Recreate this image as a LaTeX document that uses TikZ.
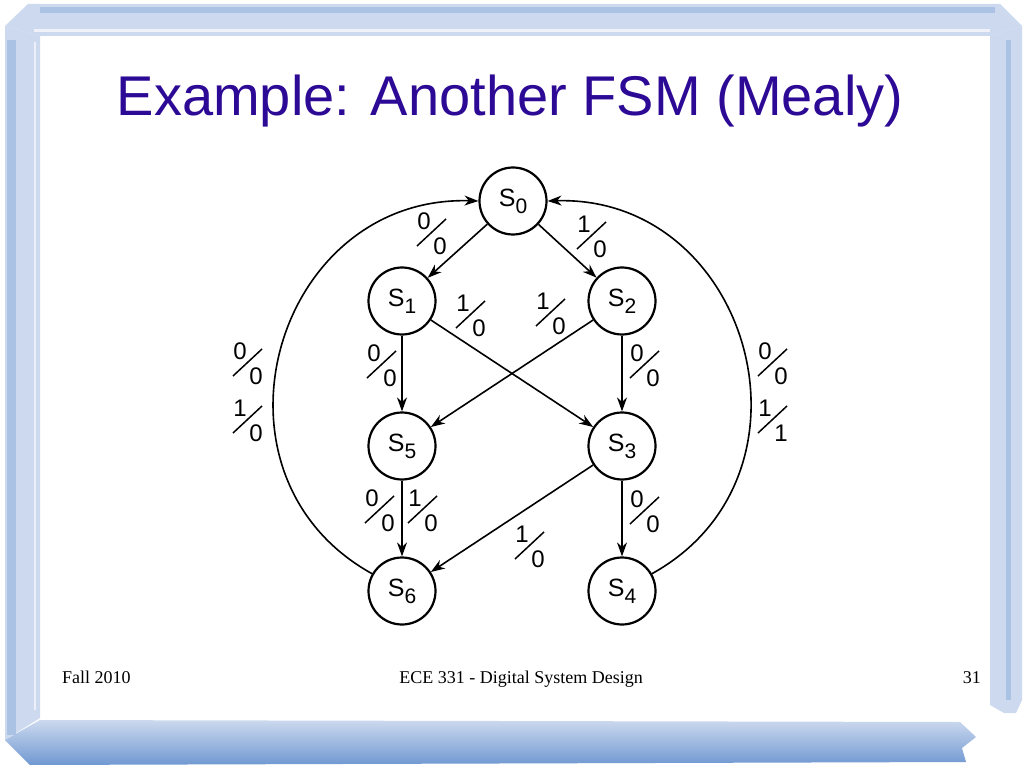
\documentclass[tikz,border=0pt]{standalone}
\usepackage{fontspec}
\setmainfont{Liberation Serif}
\newfontfamily\diagfont{Liberation Sans}
\usetikzlibrary{arrows.meta}

\definecolor{titleblue}{RGB}{45,10,150}
\definecolor{framelight}{RGB}{204,217,238}
\definecolor{framemid}{RGB}{170,194,228}
\definecolor{framedark}{RGB}{112,152,210}

\newcommand{\sname}[1]{S\raisebox{-7pt}{\fontsize{21}{21}\selectfont #1}}

\tikzset{
	pics/io/.style 2 args = {code = {
		\node[iotext] (-in) at (-8, -12) {#1};
		\draw[ioslash] (-15, 13) -- (14, -14);
		\node[iotext] (-out) at (8, 13) {#2};
	}}
}

\begin{document}
\begin{tikzpicture}[x = 1pt, y = -1pt, >={Stealth[length = 14pt, width = 10pt]},
		state/.style = {circle, draw, line width = 2.2pt, minimum size = 67pt, inner sep = 0pt, font = \diagfont\fontsize{25}{25}\selectfont},
		edge/.style = {->, line width = 1.6pt},
		iotext/.style = {inner sep = 0pt, font = \diagfont\fontsize{24}{24}\selectfont},
		ioslash/.style = {line width = 1.5pt},
		footer/.style = {inner sep = 0pt, font = \fontsize{18}{18}\selectfont}]
		\useasboundingbox[fill = white] (0, 0) rectangle (1023, 767);
		% frame
		\fill[framelight] (5, 26) -- (28, 4) -- (1000, 4) -- (1022, 26) -- (990, 36) -- (40, 36) -- cycle;
		\fill[framelight] (5, 26) -- (40, 36) -- (40, 718) -- (5, 740) -- cycle;
		\fill[framelight] (1022, 26) -- (990, 36) -- (990, 705) -- (1004, 713) -- (1016, 713) -- (1022, 700) -- cycle;
		\shade[top color = framelight, bottom color = framedark] (5, 740) -- (40, 720) -- (960, 722) -- (976, 737) -- (962, 748) -- (966, 762) -- (30, 765) -- cycle;
		\draw[framemid, line width = 9pt] (11, 40) -- (11, 735);
		\draw[framemid, line width = 5pt] (1008, 40) -- (1008, 700);
		\draw[framemid, line width = 6pt] (40, 10) -- (995, 10);
		\draw[white, line width = 3pt, opacity = 0.7] (34, 31) -- (990, 31);
		\draw[white, line width = 2pt, opacity = 0.6] (35, 42) -- (35, 710);
		% title
		\node[anchor = base, inner sep = 0pt, text = titleblue, font = \diagfont\fontsize{56}{56}\selectfont] (title) at (510, 116) {Example: Another FSM (Mealy)};
		% states
		\foreach \n/\x/\y in {0/513/201, 1/402/301, 2/622/301, 5/402/446, 3/622/446, 6/402/591, 4/622/591}
			\node[state] (s\n) at (\x, \y) {\sname{\n}};
		% transitions
		\foreach \a/\b in {0/1, 0/2, 1/5, 2/3, 1/3, 2/5, 5/6, 3/6, 3/4}
			\draw[edge] (s\a) to (s\b);
		\draw[edge] (s6.150) .. controls (194, 475) and (274, 195) .. (s0.west);
		\draw[edge] (s4.30) .. controls (830, 475) and (750, 195) .. (s0.east);
		% input/output labels
		\foreach \i/\o/\x/\y [count = \k] in {0/0/432/233, 1/0/592/236, 1/0/471/315, 1/0/551/313, 0/0/382/365, 0/0/645/365,
				0/0/248/363, 1/0/248/420, 0/0/773/363, 1/1/773/420, 0/0/380/510, 1/0/423/510, 1/0/530/546, 0/0/645/511}
			\pic (lab\k) at (\x, \y) {io = {\i}{\o}};
		% footer
		\node[footer, anchor = base west] (date) at (62, 683) {Fall 2010};
		\node[footer, anchor = base] (course) at (521, 683) {ECE 331 - Digital System Design};
		\node[footer, anchor = base east] (page) at (981, 683) {31};
	\end{tikzpicture}
\end{document}
